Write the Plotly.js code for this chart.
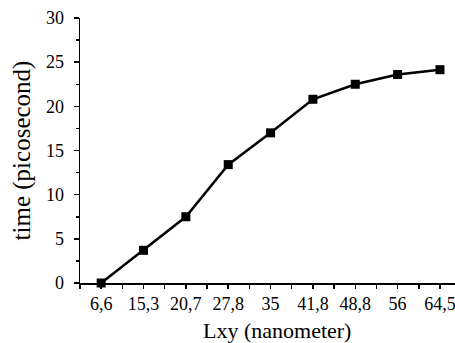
<!DOCTYPE html>
<html>
<head>
<meta charset="utf-8">
<script src="https://cdn.plot.ly/plotly-3.0.1.min.js"></script>
<style>html,body{margin:0;padding:0;background:#fff;}#chart{width:455px;height:343px;}</style>
</head>
<body>
<div id="chart"></div>
<script>
const categories = ["6,6", "15,3", "20,7", "27,8", "35", "41,8", "48,8", "56", "64,5"];
const timeValues = [0, 3.7, 7.5, 13.4, 17.0, 20.8, 22.5, 23.6, 24.15];
const yTickVals = [0, 5, 10, 15, 20, 25, 30];
const xTitle = 'Lxy (nanometer)';
const yTitle = 'time (picosecond)';

const xIndex = categories.map((c, i) => i);

const trace = {
  x: xIndex,
  y: timeValues,
  type: 'scatter',
  mode: 'lines+markers',
  line: {color: '#000', width: 2.5},
  marker: {symbol: 'square', size: 9, color: '#000'},
  cliponaxis: false,
  hoverinfo: 'none'
};

const font = 'Liberation Serif';

const layout = {
  width: 455, height: 343,
  margin: {l: 80, r: 0, t: 18, b: 60},
  paper_bgcolor: '#fff', plot_bgcolor: '#fff',
  showlegend: false,
  font: {family: font, color: '#000', size: 18},
  xaxis: {
    range: [-0.5, 8.355],
    tickmode: 'array',
    tickvals: xIndex,
    ticktext: categories,
    ticks: 'outside', ticklen: 4, tickwidth: 1.5, tickcolor: '#000',
    minor: {dtick: 0.5, tick0: 0, ticks: 'outside', ticklen: 4, tickwidth: 1.5, tickcolor: '#000'},
    showline: true, linecolor: '#000', linewidth: 1.5,
    showgrid: false, zeroline: false,
    tickfont: {family: font, size: 18, color: '#000'},
    ticklabeloverflow: 'allow',
    automargin: false
  },
  yaxis: {
    range: [0, 30],
    tickmode: 'array',
    tickvals: yTickVals,
    ticks: 'outside', ticklen: 5, tickwidth: 1.5, tickcolor: '#000',
    minor: {dtick: 2.5, tick0: 0, ticks: 'outside', ticklen: 3, tickwidth: 1.5, tickcolor: '#000'},
    showline: true, linecolor: '#000', linewidth: 1.5,
    showgrid: false, zeroline: false,
    tickfont: {family: font, size: 18, color: '#000'},
    ticklabelstandoff: 6,
    automargin: false,
    title: {text: yTitle, font: {family: font, size: 25, color: '#000'}, standoff: 8}
  },
  annotations: [{
    text: xTitle, xref: 'paper', yref: 'paper',
    x: 0.5253, y: -0.1774, xanchor: 'center', yanchor: 'middle',
    showarrow: false, font: {family: font, size: 22, color: '#000'}
  }]
};

Plotly.newPlot('chart', [trace], layout, {staticPlot: true, displayModeBar: false});
</script>
</body>
</html>
